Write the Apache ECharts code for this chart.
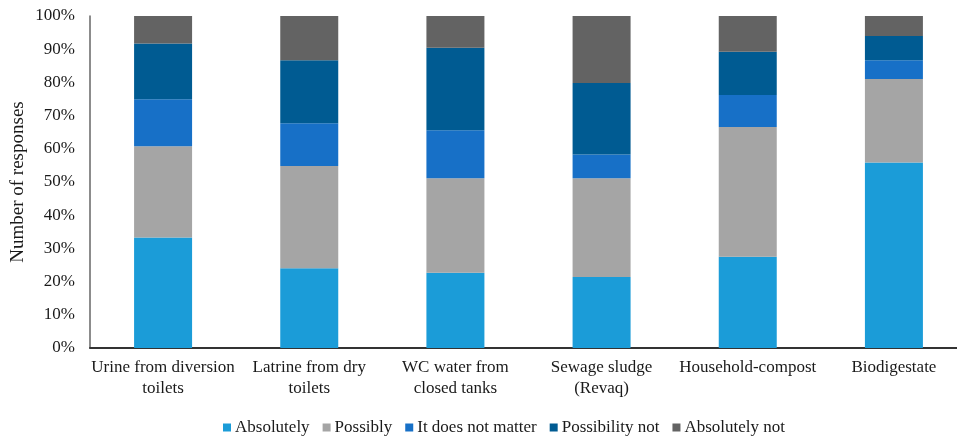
<!DOCTYPE html>
<html>
<head>
<meta charset="utf-8">
<script src="https://cdn.jsdelivr.net/npm/echarts@6/dist/echarts.min.js"></script>
<style>
  html, body { margin: 0; padding: 0; background: #fff; }
  #chart { width: 957px; height: 437px; }
</style>
</head>
<body>
<div id="chart"></div>
<script>
// Categories of recycled material
const categories = [
  'Urine from diversion\ntoilets',
  'Latrine from dry\ntoilets',
  'WC water from\nclosed tanks',
  'Sewage sludge\n(Revaq)',
  'Household-compost',
  'Biodigestate'
];

// Share of responses per answer (percent)
const absolutely      = [33.3, 24.0, 22.7, 21.4, 27.5, 55.9];
const possibly        = [27.5, 30.8, 28.4, 29.7, 39.1, 25.1];
const doesNotMatter   = [14.1, 12.9, 14.5,  7.2,  9.6,  5.7];
const possibilityNot  = [16.8, 19.0, 24.8, 21.5, 13.0,  7.3];
const absolutelyNot   = [ 8.3, 13.3,  9.6, 20.2, 10.8,  6.0];

const seriesNames = ['Absolutely', 'Possibly', 'It does not matter', 'Possibility not', 'Absolutely not'];
const seriesData = [absolutely, possibly, doesNotMatter, possibilityNot, absolutelyNot];
const colors = ['#1b9cd8', '#a5a5a5', '#1770c7', '#005b92', '#636363'];

const font = 'Liberation Serif, Times New Roman, serif';
const textColor = '#1a1a1a';

const chart = echarts.init(document.getElementById('chart'));
chart.setOption({
  animation: false,
  color: colors,
  textStyle: { fontFamily: font },
  grid: { left: 90, top: 16, bottom: 89, width: 877, containLabel: false, outerBoundsMode: 'none' },
  legend: {
    top: 414,
    left: 218,
    itemWidth: 8,
    itemHeight: 8,
    itemGap: 13,
    icon: 'rect',
    textStyle: { fontFamily: font, fontSize: 17, color: textColor, padding: [0, 0, 0, -1] },
    data: seriesNames
  },
  xAxis: {
    type: 'category',
    data: categories,
    axisLine: { lineStyle: { color: '#333', width: 2 } },
    axisTick: { show: false },
    axisLabel: {
      fontFamily: font, fontSize: 17, color: textColor,
      lineHeight: 21, margin: 9, interval: 0
    }
  },
  yAxis: {
    type: 'value',
    min: 0, max: 100, interval: 10,
    name: 'Number of responses',
    nameLocation: 'middle',
    nameGap: 62,
    nameMoveOverlap: false,
    nameTextStyle: { fontFamily: font, fontSize: 19, color: textColor },
    axisLine: { show: true, lineStyle: { color: '#666', width: 1.5 } },
    axisTick: { show: false },
    splitLine: { show: false },
    axisLabel: {
      fontFamily: font, fontSize: 17, color: textColor, margin: 15,
      formatter: '{value}%'
    }
  },
  series: seriesNames.map((name, i) => ({
    name: name,
    type: 'bar',
    stack: 'total',
    barWidth: 58,
    data: seriesData[i]
  }))
});
</script>
</body>
</html>
